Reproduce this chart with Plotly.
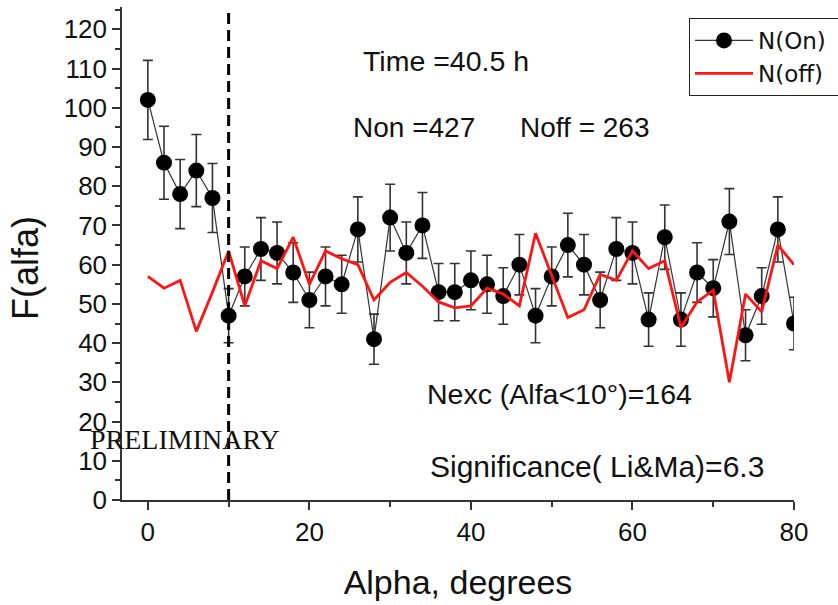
import plotly.graph_objects as go

# ---- data ----
alpha = [0, 2, 4, 6, 8, 10, 12, 14, 16, 18, 20, 22, 24, 26, 28, 30, 32, 34, 36, 38,
         40, 42, 44, 46, 48, 50, 52, 54, 56, 58, 60, 62, 64, 66, 68, 70, 72, 74, 76, 78, 80]
n_on = [102, 86, 78, 84, 77, 47, 57, 64, 63, 58, 51, 57, 55, 69, 41, 72, 63, 70, 53, 53,
        56, 55, 52, 60, 47, 57, 65, 60, 51, 64, 63, 46, 67, 46, 58, 54, 71, 42, 52, 69, 45]
n_on_err = [10.1, 9.3, 8.8, 9.2, 8.8, 6.9, 7.5, 8.0, 7.9, 7.6, 7.1, 7.5, 7.4, 8.3, 6.4, 8.5,
            7.9, 8.4, 7.3, 7.3, 7.5, 7.4, 7.2, 7.7, 6.9, 7.5, 8.1, 7.7, 7.1, 8.0, 7.9, 6.8,
            8.2, 6.8, 7.6, 7.3, 8.4, 6.5, 7.2, 8.3, 6.7]
n_off = [57, 54, 56, 43, 53, 63.5, 49.5, 61, 59, 67, 55, 63.5, 61.5, 60, 51, 55.5, 58, 54.5,
         50.5, 49, 49.5, 54, 52.5, 49.5, 68, 57, 46.5, 48.5, 57.5, 56, 63.5, 59, 61, 44,
         50.5, 53.5, 30, 52.5, 48, 65, 60]
cut_alpha = 10
x_ticks = [0, 20, 40, 60, 80]
y_ticks = [0, 10, 20, 30, 40, 50, 60, 70, 80, 90, 100, 110, 120]

# ---- geometry helpers (pixel -> paper) ----
W, H = 838, 605
L, R, T, B = 122, 44, 7, 105
PW, PH = W - L - R, H - T - B


def px(x):
    return (x - L) / PW


def py(y):
    return (H - B - y) / PH


SANS = "Liberation Sans"
TXT = "#111111"
PAD = "\u00a0" * 4

fig = go.Figure()
fig.add_trace(go.Scatter(
    x=alpha, y=n_on, mode="lines+markers", name="N(On)" + PAD,
    line=dict(color="#333333", width=1.2),
    marker=dict(color="black", size=16),
    error_y=dict(type="data", array=n_on_err, color="#333333", thickness=1.6, width=5),
))
fig.add_trace(go.Scatter(
    x=alpha, y=n_off, mode="lines", name="N(off)" + PAD,
    line=dict(color="#ff1414", width=2.8),
))

fig.add_vline(x=cut_alpha, line=dict(color="black", width=3, dash="11px,6px"))

annotations = [
    dict(text="Time =40.5 h", x=px(361), y=py(61), size=28.5),
    dict(text="Non =427", x=px(351), y=py(127), size=28),
    dict(text="Noff = 263", x=px(518), y=py(127), size=28),
    dict(text="Nexc (Alfa<10°)=164", x=px(425), y=py(394), size=28.5),
    dict(text="Significance( Li&Ma)=6.3", x=px(428), y=py(466), size=30),
]
anns = []
for a in annotations:
    anns.append(dict(text=a["text"], x=a["x"], y=a["y"], xref="paper", yref="paper",
                     xanchor="left", yanchor="middle", showarrow=False,
                     font=dict(family=SANS, size=a["size"], color=TXT)))
anns.append(dict(text="PRELIMINARY", x=px(88), y=py(439), xref="paper", yref="paper",
                 xanchor="left", yanchor="middle", showarrow=False,
                 font=dict(family="Liberation Serif", size=28, color=TXT)))
# y-axis title (placed as in the reference, slightly below the axis centre)
anns.append(dict(text="F(alfa)", x=px(25), y=py(268), xref="paper", yref="paper",
                 xanchor="center", yanchor="middle", showarrow=False, textangle=-90,
                 font=dict(family=SANS, size=36, color=TXT)))

axis_common = dict(showgrid=False, zeroline=False, showline=True,
                   linecolor="#333333", linewidth=1.5, tickcolor="#333333", tickwidth=1.5)

fig.update_layout(
    width=W, height=H,
    margin=dict(l=L, r=R, t=T, b=B, autoexpand=False),
    paper_bgcolor="white", plot_bgcolor="white",
    font=dict(family=SANS, color=TXT),
    showlegend=True,
    legend=dict(x=px(689), y=py(18), xanchor="left", yanchor="top",
                bgcolor="white", bordercolor="#222222", borderwidth=1,
                font=dict(family="DejaVu Sans", size=23, color=TXT),
                itemwidth=58, tracegroupgap=0),
    xaxis=dict(range=[-3.2, 80], tickvals=x_ticks, ticks="outside", ticklen=8,
               minor=dict(dtick=10, tick0=0, ticks="outside", ticklen=5,
                          tickcolor="#333333", tickwidth=1.5),
               tickfont=dict(family=SANS, size=26, color=TXT),
               title=dict(text="Alpha, degrees", font=dict(family=SANS, size=34, color=TXT),
                          standoff=24),
               **axis_common),
    yaxis=dict(range=[0, 125.7], tickvals=y_ticks, ticks="outside", ticklen=8,
               minor=dict(dtick=5, tick0=0, ticks="outside", ticklen=5,
                          tickcolor="#333333", tickwidth=1.5),
               tickfont=dict(family=SANS, size=26, color=TXT),
               **axis_common),
    xaxis2=dict(overlaying="x", side="top", anchor="y", range=[-3.2, 80],
                dtick=10, tick0=0, ticks="inside", ticklen=4, showticklabels=False,
                **axis_common),
    yaxis2=dict(overlaying="y", side="right", anchor="x", range=[0, 125.7],
                dtick=5, tick0=0, ticks="inside", ticklen=7, showticklabels=False,
                **axis_common),
    annotations=anns,
)

fig.write_html("out.html",
               config={"displayModeBar": False},
               post_script="document.body.style.margin='0';document.body.style.overflow='hidden';")
